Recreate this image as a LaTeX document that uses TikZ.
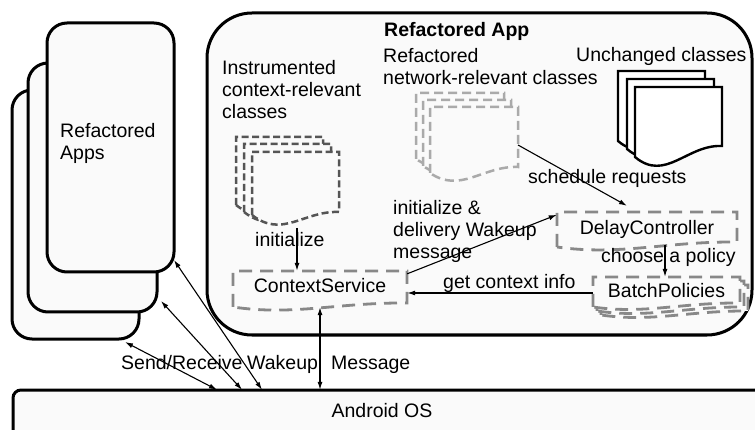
\documentclass[tikz,border=0pt]{standalone}
\usepackage{fontspec}
\setmainfont{Liberation Sans}
\usetikzlibrary{arrows.meta}
\definecolor{bgfill}{HTML}{FAFAFA}
\definecolor{darkdash}{HTML}{555555}
\definecolor{lightdash}{HTML}{AAAAAA}
\definecolor{svcdash}{HTML}{888888}
% #2=x #3=y (top-left), #4=w, #5=left height, #6=right rise, #7=wave amplitude
\newcommand\docshape[7][]{%
  \draw[#1] (#2,{#3+#5}) -- (#2,#3) -- ({#2+#4},#3) -- ({#2+#4},{#3+#5-#6})
    .. controls ({#2+0.6*#4},{#3+#5-#6-0.1*#7}) and ({#2+0.35*#4},{#3+#5+1.5*#7}) .. (#2,{#3+#5}) -- cycle;}
\begin{document}
\begin{tikzpicture}[x=1pt,y=-1pt,
  txt/.style={font=\fontsize{19.5}{22}\selectfont, inner sep=0pt},
  lbl/.style={txt, anchor=base west},
  ml/.style={txt, align=left, anchor=north west},
  frame/.style={draw=black, line width=3pt, fill=bgfill},
  darkdoc/.style={draw=darkdash, line width=2.5pt, dash pattern=on 7pt off 3.5pt, fill=bgfill},
  lightdoc/.style={draw=lightdash, line width=2.5pt, dash pattern=on 9pt off 5pt, fill=bgfill},
  soliddoc/.style={draw=black, line width=2.4pt, fill=white},
  svc/.style={draw=svcdash, line width=2.8pt, dash pattern=on 13pt off 8pt, fill=bgfill},
  conn/.style={line width=1.1pt, -{Latex[length=8pt,width=5pt]}},
  dconn/.style={line width=1.1pt, {Latex[length=8pt,width=5pt]}-{Latex[length=8pt,width=5pt]}}]

\useasboundingbox[fill=white] (0,0) rectangle (755,430);

% phones
\draw[frame, rounded corners=20pt] (12,90) rectangle (139,339);
\draw[frame, rounded corners=20pt] (28,63) rectangle (157,312);
\draw[frame, rounded corners=20pt] (47,23) rectangle (174,272);

% refactored app frame
\draw[frame, rounded corners=45pt] (207,13) rectangle (752,335);

% Android OS frame
\draw[frame, rounded corners=8pt] (13,390) rectangle (775,450);

% instrumented docs
\docshape[darkdoc]{236}{137}{87}{68}{3}{16}
\docshape[darkdoc]{244}{144}{87}{68}{3}{16}
\docshape[darkdoc]{252}{152}{87}{63}{3}{16}

% network docs
\docshape[lightdoc]{416}{93}{88}{66}{6}{14}
\docshape[lightdoc]{423}{100}{88}{66}{6}{14}
\docshape[lightdoc]{430}{107}{88}{66}{6}{14}

% unchanged docs
\docshape[soliddoc]{618}{71}{87}{70}{11}{17}
\docshape[soliddoc]{627}{79}{87}{70}{11}{17}
\docshape[soliddoc]{635}{87}{87}{70}{11}{17}

% service boxes
\docshape[svc]{233}{271}{174}{36}{4}{6}
\docshape[svc]{557}{212}{180}{35}{5}{6}
\docshape[svc]{601}{285}{147}{30}{4}{5}
\docshape[svc]{597}{281}{147}{30}{4}{5}
\docshape[svc]{593}{277}{147}{30}{4}{5}

% box nodes
\node[txt, anchor=base, text height=22pt, text depth=14pt, minimum width=174pt] (cs) at (320,293) {ContextService};
\node[txt, anchor=base, text height=23pt, text depth=10pt, minimum width=180pt] (dc) at (647,235) {DelayController};
\node[txt, anchor=base, text height=21pt, text depth=9pt, minimum width=147pt] (bp) at (666.5,298) {BatchPolicies};
\node[txt, anchor=base, text height=27pt, text depth=13pt] (os) at (382,417) {Android OS};

% labels
\node[ml] (appsLbl) at (60,122.8) {Refactored\\Apps};
\node[lbl, font=\fontsize{19.5}{22}\selectfont\bfseries] (title) at (384,37) {Refactored App};
\node[ml] (instrLbl) at (222,59.8) {Instrumented\\context-relevant\\classes};
\node[ml] (netLbl) at (383,47.8) {Refactored\\network-relevant classes};
\node[lbl] (unchLbl) at (576,62) {Unchanged classes};
\node[lbl] (initLbl) at (255,247) {initialize};
\node[ml] (delivLbl) at (393,199.8) {initialize \&\\delivery Wakeup\\message};
\node[lbl] (schedLbl) at (528,184) {schedule requests};
\node[lbl] (chooseLbl) at (601,263) {choose a policy};
\node[lbl] (getLbl) at (443,289) {get context info};
\node[lbl] (sendLbl) at (121,370) {Send/Receive};
\node[lbl] (wakeLbl) at (247,370) {Wakeup};
\node[lbl] (msgLbl) at (331,370) {Message};

% connector end points
\coordinate (darkbottom) at (297,228);
\coordinate (lightside) at (518,145);
\coordinate (pa) at (174,260);
\coordinate (pb) at (161,301);
\coordinate (pc) at (125,342);
\coordinate (qa) at (262,0);
\coordinate (qb) at (242,0);
\coordinate (qc) at (217,0);

% connectors
\draw[conn] (darkbottom) -- (darkbottom |- cs.north);
\draw[conn] (lightside) -- ([xshift=-20pt,yshift=6pt]dc.north);
\draw[conn] ([yshift=-3pt]cs.north east) -- ([yshift=-3pt]dc.north west);
\draw[conn] ([xshift=18pt]dc.south) -- ([xshift=18pt]dc.south |- bp.north);
\draw[conn] ([yshift=-1pt]bp.west) -- ([yshift=-1pt]bp.west -| cs.east);
\draw[dconn] (cs.south) -- (cs.south |- os.north);
\draw[dconn] (pa) -- (qa |- os.north);
\draw[dconn] (pb) -- (qb |- os.north);
\draw[dconn] (pc) -- (qc |- os.north);
\end{tikzpicture}
\end{document}
